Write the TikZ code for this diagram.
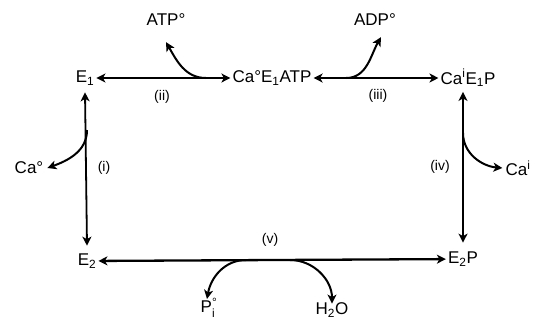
\documentclass[tikz,border=0pt]{standalone}
\usepackage{amsmath}
\usepackage{fontspec}
\setmainfont{Liberation Sans}
\usetikzlibrary{arrows.meta, positioning}

\begin{document}
\begin{tikzpicture}[x=1pt, y=-1pt,
  species/.style={inner sep=2pt, font=\fontsize{17}{20}\selectfont},
  rxnlabel/.style={inner sep=1pt, font=\fontsize{14}{16}\selectfont},
  main/.style={line width=2.3pt, {Stealth[length=9pt,width=9pt,inset=2.5pt]}-{Stealth[length=9pt,width=9pt,inset=2.5pt]}},
  side/.style={line width=2pt, -{Stealth[length=9pt,width=9pt,inset=2.5pt]}}]
  \useasboundingbox (0,0) rectangle (534,322);

  % enzyme states
  \node[species] (e1) at (85,78) {E\textsubscript{1}};
  \node[species] (cae1atp) at (272,78) {Ca°E\textsubscript{1}ATP};
  \node[species] (cae1p) at (468,78) {Ca\textsuperscript{i}E\textsubscript{1}P};
  \node[species] (e2) at (87,261) {E\textsubscript{2}};
  \node[species] (e2p) at (463,259) {E\textsubscript{2}P};

  % released species
  \node[species] (atp) at (166,20) {ATP°};
  \node[species] (adp) at (375,20) {ADP°};
  \node[species] (cao) at (29,168) {Ca°};
  \node[species] (cai) at (518,168) {Ca\textsuperscript{i}};
  \node[species] (pi) at (209,308) {P$^{\text{°}}_{\text{i}}$};
  \node[species] (water) at (332,310) {H\textsubscript{2}O};

  % main steps
  \draw[main] (e1) -- (cae1atp);
  \draw[main] (cae1atp) -- (cae1p);
  \draw[main, line width=1.8pt] ([yshift=-5pt]e1.south) -- ([yshift=6pt]e2.north);
  \draw[main, line width=1.8pt] ([yshift=-3pt]cae1p.south -| e2p.north) -- ([yshift=7pt]e2p.north);
  \draw[main] (e2) -- (e2p);

  \node[rxnlabel] (l-i) at (104,168) {(i)};
  \node[rxnlabel] (l-ii) at (162,97) {(ii)};
  \node[rxnlabel] (l-iii) at (378,96) {(iii)};
  \node[rxnlabel] (l-iv) at (440,167) {(iv)};
  \node[rxnlabel] (l-v) at (270,240) {(v)};

  % branch points on the main arrows
  \coordinate (b-atp) at (206,78);
  \coordinate (b-adp) at (346,78);
  \coordinate (b-cao) at (87,130);
  \coordinate (b-cai) at (463,133);
  \coordinate (b-pi) at (246,260);
  \coordinate (b-water) at (290,260);

  \draw[side] (b-atp) to[out=180, in=-60] ([yshift=-14pt]atp.south);
  \draw[side] (b-adp) to[out=0, in=240] ([xshift=6pt,yshift=-9pt]adp.south);
  \draw[side] (b-cao) to[out=-90, in=20] ([xshift=2pt]cao.east);
  \draw[side] (b-cai) to[out=-90, in=175] ([xshift=-1pt]cai.west);
  \draw[side] (b-pi) to[out=180, in=80] ([xshift=-2pt,yshift=-3pt]pi.north);
  \draw[side] (b-water) to[out=0, in=90] ([yshift=-3pt]water.north);
\end{tikzpicture}
\end{document}
